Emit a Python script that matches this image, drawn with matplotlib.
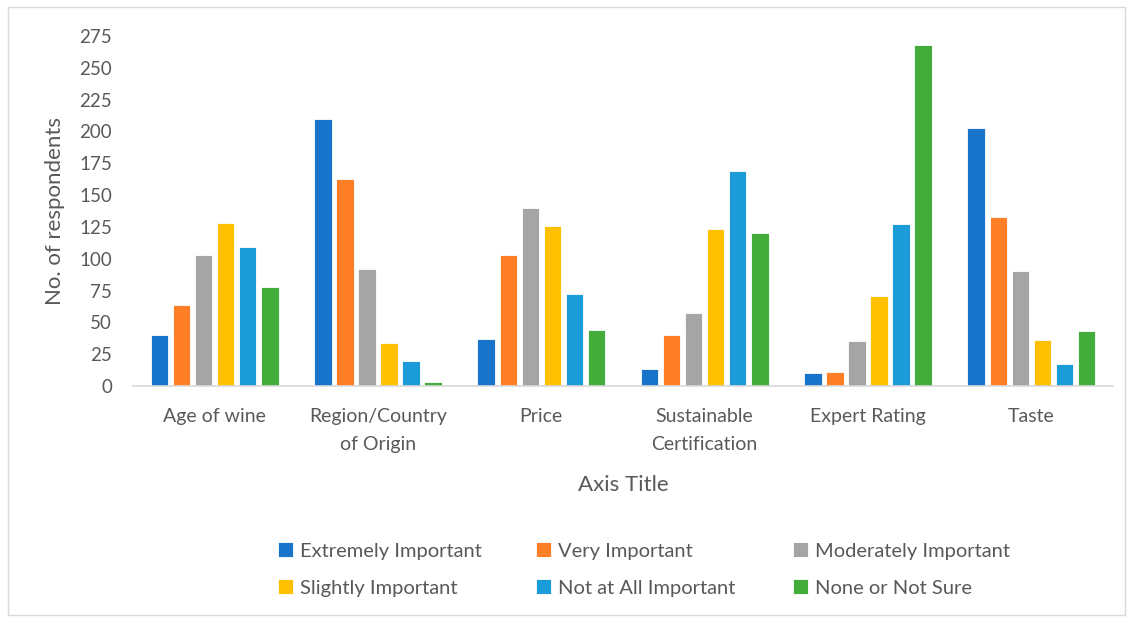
import matplotlib
matplotlib.use("Agg")
import matplotlib.pyplot as plt
import numpy as np
from matplotlib.patches import Rectangle

categories = ["Age of wine", "Region/Country\nof Origin", "Price", "Sustainable\nCertification", "Expert Rating", "Taste"]
series_names = ["Extremely Important", "Very Important", "Moderately Important",
                "Slightly Important", "Not at All Important", "None or Not Sure"]
extremely = [40, 210, 37, 13, 10, 203]
very = [64, 163, 103, 40, 11, 133]
moderately = [103, 92, 140, 57, 35, 90]
slightly = [128, 34, 126, 123, 71, 36]
not_at_all = [109, 20, 72, 169, 127, 17]
none_sure = [78, 3, 44, 120, 268, 43]
yticks = [0, 25, 50, 75, 100, 125, 150, 175, 200, 225, 250, 275]

series = [extremely, very, moderately, slightly, not_at_all, none_sure]
colors = ["#1874CB", "#FF7F27", "#A5A5A5", "#FFC000", "#1B9BD7", "#43AD3B"]

plt.rcParams['font.family'] = ['Lato', 'DejaVu Sans']
txt = "#595959"

fig = plt.figure(figsize=(11.32, 6.19), dpi=100)
ax = fig.add_axes([133/1132, 1-386/619, (1113-133)/1132, (386-36)/619])

x = np.arange(len(categories))
slot = 0.135
width = 0.107
handles = []
for i, (vals, c, name) in enumerate(zip(series, colors, series_names)):
    h = ax.bar(x + (i - 2.5) * slot, vals, width=width, color=c, edgecolor="white",
               linewidth=0.6, label=name)
    handles.append(h)

ax.set_xlim(-0.5, len(categories) - 0.5)
ax.set_ylim(0, 275)
ax.set_yticks(yticks)
ax.set_xticks(x)
ax.set_xticklabels(categories, fontsize=14, color=txt, linespacing=1.75)
ax.tick_params(axis='y', labelsize=13.5, colors=txt, length=0, pad=15)
ax.tick_params(axis='x', length=0, pad=16)
for s in ["top", "right", "left"]:
    ax.spines[s].set_visible(False)
ax.spines["bottom"].set_color("#D9D9D9")
ax.spines["bottom"].set_linewidth(1.2)

ax.set_ylabel("No. of respondents", fontsize=16, color=txt, labelpad=10)
ax.set_xlabel("Axis Title", fontsize=16, color=txt, labelpad=16)

# legend entries placed in a 3x2 grid, row-wise order
col_x = [278, 536, 793]
row_y = [551, 588]
for i, (h, name) in enumerate(zip(handles, series_names)):
    cx = col_x[i % 3]
    cy = row_y[i // 3]
    leg = fig.legend([h], [name], loc="center left",
                     bbox_to_anchor=(cx / 1132, 1 - cy / 619),
                     frameon=False, fontsize=14.5, handlelength=0.75, handleheight=0.75,
                     handletextpad=0.35, borderpad=0, borderaxespad=0)
    for t in leg.get_texts():
        t.set_color(txt)

fig.patches.append(Rectangle((8/1132, 4/619), (1125-8)/1132, (612-4)/619, transform=fig.transFigure,
                             fill=False, edgecolor="#D9D9D9", linewidth=1.0))

fig.savefig("out.png", dpi=100)
